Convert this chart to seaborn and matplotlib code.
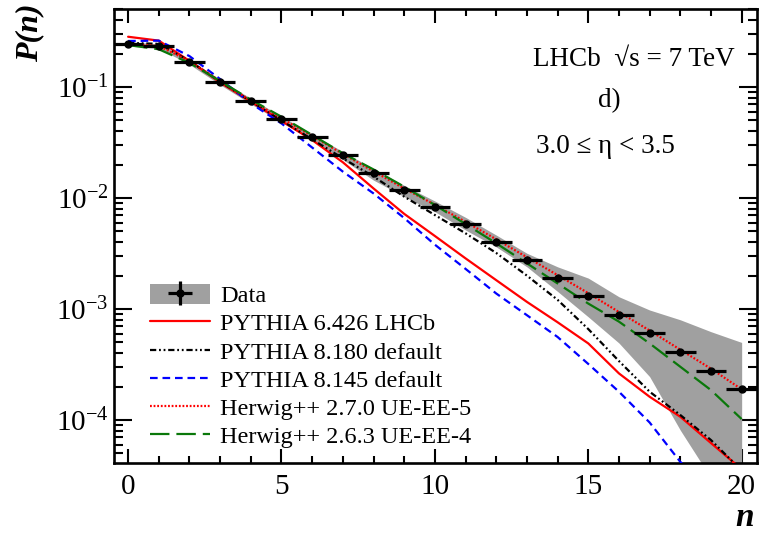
# P(n) multiplicity distribution, LHCb sqrt(s)=7 TeV, 3.0 <= eta < 3.5
import numpy as np
import pandas as pd
import matplotlib
matplotlib.use("Agg")
import matplotlib.pyplot as plt
import matplotlib.ticker as mticker
from matplotlib.patches import Patch
from matplotlib.lines import Line2D
import seaborn as sns

#%%
# values
n = np.arange(0, 21)
data = [0.245, 0.234, 0.168, 0.111, 0.0748, 0.0515, 0.0355, 0.0244, 0.0169, 0.0118,
        0.00835, 0.00583, 0.00404, 0.00276, 0.00191, 0.00131, 0.000883, 0.000604,
        0.000407, 0.000278, 0.000189]
data_err = [0.004, 0.004, 0.003, 0.002, 0.0013, 0.0009, 0.0006, 0.0004, 0.0003, 0.0002,
            0.00015, 0.0001, 0.00008, 0.00006, 0.00004, 0.00003, 0.00002, 0.000015,
            0.00001, 0.000008, 0.000006]
band_hi = [0.256, 0.245, 0.176, 0.117, 0.079, 0.0545, 0.0378, 0.0262, 0.0184, 0.0130,
           0.0094, 0.0067, 0.00464, 0.00318, 0.0024, 0.0019, 0.00129, 0.00098,
           0.0008, 0.000625, 0.0005]
band_lo = [0.234, 0.223, 0.160, 0.105, 0.0705, 0.0482, 0.0330, 0.0222, 0.0145, 0.0103,
           0.00753, 0.00515, 0.00363, 0.0024, 0.00144, 0.00085, 0.000494, 0.000246,
           0.000081, 0.000030, 0.000020]

py6426 = [0.284, 0.262, 0.172, 0.110, 0.0738, 0.0495, 0.0333, 0.0210, 0.0122, 0.0072,
          0.00455, 0.00286, 0.00182, 0.00116, 0.00076, 0.00049, 0.000263, 0.000162,
          0.000107, 0.000062, 0.000036]
py8180 = [0.250, 0.245, 0.172, 0.112, 0.0745, 0.050, 0.0338, 0.0228, 0.0156, 0.0103,
          0.00703, 0.00481, 0.00320, 0.00200, 0.00121, 0.00066, 0.00034, 0.000180,
          0.000111, 0.000066, 0.000035]
py8145 = [0.260, 0.262, 0.190, 0.118, 0.0713, 0.0470, 0.0285, 0.0173, 0.0110, 0.0066,
          0.0038, 0.0023, 0.00138, 0.00088, 0.00056, 0.00032, 0.00018, 0.000095,
          0.000042, 0.000022, 0.000012]
hw270 = [0.244, 0.234, 0.172, 0.113, 0.0755, 0.0522, 0.0362, 0.0250, 0.0174, 0.0122,
         0.0087, 0.0061, 0.00425, 0.00293, 0.00202, 0.00139, 0.00094, 0.00064,
         0.00043, 0.00029, 0.000189]
hw263 = [0.239, 0.219, 0.165, 0.113, 0.077, 0.054, 0.037, 0.0253, 0.0181, 0.01265,
         0.00865, 0.00583, 0.00391, 0.00258, 0.0017, 0.00112, 0.00077, 0.00049,
         0.000302, 0.000186, 0.000102]

labels = ["PYTHIA 6.426 LHCb", "PYTHIA 8.180 default", "PYTHIA 8.145 default",
          "Herwig++ 2.7.0 UE-EE-5", "Herwig++ 2.6.3 UE-EE-4"]

#%%
# style
sns.set_style("ticks")
serif = ["Liberation Serif", "DejaVu Serif"]
plt.rcParams["font.family"] = serif
plt.rcParams["mathtext.fontset"] = "custom"
plt.rcParams["mathtext.rm"] = "Liberation Serif"
plt.rcParams["mathtext.it"] = "Liberation Serif:italic"
plt.rcParams["mathtext.bf"] = "Liberation Serif:bold"
plt.rcParams["lines.scale_dashes"] = False
for key in ["axes.edgecolor", "xtick.color", "ytick.color", "text.color",
            "axes.labelcolor"]:
    plt.rcParams[key] = "black"

fig = plt.figure(figsize=(7.61, 5.40), dpi=100)
ax = fig.add_axes([114/761, 1-463/540, (757-114)/761, (463-9)/540])

# grey systematic band + data
ax.fill_between(n, band_lo, band_hi, color="#a0a0a0", lw=0, zorder=1)
eb = ax.errorbar(n, data, xerr=0.5, yerr=data_err, fmt="o", color="black",
                 ms=5, elinewidth=2.3, capsize=0, zorder=5)

models = pd.DataFrame({"n": n, labels[0]: py6426, labels[1]: py8180,
                       labels[2]: py8145, labels[3]: hw270, labels[4]: hw263})
styles = {
    labels[0]: ("#ff0000", "-"),
    labels[1]: ("black", (0, (4.5, 2, 1.3, 2, 1.3, 2))),
    labels[2]: ("#0000ff", (0, (5.5, 3.5))),
    labels[3]: ("#ff0000", (0, (1.3, 1.3))),
    labels[4]: ("#0a780a", (0, (14, 5))),
}
handles = []
for lab in labels:
    col, ls = styles[lab]
    sns.lineplot(data=models, x="n", y=lab, ax=ax, color=col, linestyle=ls,
                 lw=1.6, zorder=4)
    handles.append(Line2D([], [], color=col, linestyle=ls, lw=1.6))

ax.set_yscale("log")
ax.set_xlim(-0.46, 20.5)
ax.set_ylim(4.1e-5, 0.505)
ax.set_xlabel("")
ax.set_ylabel("")

ax.xaxis.set_major_locator(mticker.MultipleLocator(5))
ax.xaxis.set_minor_locator(mticker.MultipleLocator(1))
ax.yaxis.set_major_locator(mticker.LogLocator(base=10))
ax.yaxis.set_minor_locator(mticker.LogLocator(base=10, subs=np.arange(2, 10)))
ax.yaxis.set_minor_formatter(mticker.NullFormatter())
ax.yaxis.set_major_formatter(mticker.FuncFormatter(
    lambda v, p: r"10$^{%d}$" % round(np.log10(v))))

for s in ax.spines.values():
    s.set_linewidth(1.9)
ax.tick_params(which="both", direction="in", top=True, right=True, width=1.5,
               labelsize=21)
ax.tick_params(axis="y", which="major", length=13, pad=4)
ax.tick_params(axis="y", which="minor", length=6.5)
ax.tick_params(axis="x", which="major", length=10, pad=8)
ax.tick_params(axis="x", which="minor", length=5)

# legend
band_patch = Patch(facecolor="#a0a0a0", edgecolor="none")
leg = ax.legend([(band_patch, eb)] + handles, ["Data"] + labels,
                loc="upper left", bbox_to_anchor=(0.056, 0.394), frameon=False,
                fontsize=17.5, handlelength=2.45, handleheight=0.85,
                handletextpad=0.45, labelspacing=0.21, borderpad=0,
                borderaxespad=0)

# annotations
fig.text(634/761, 1-60/540, "LHCb  \u221as = 7 TeV", ha="center", va="center",
         fontsize=19.5)
fig.text(609/761, 1-101/540, "d)", ha="center", va="center", fontsize=19.5)
fig.text(605/761, 1-147/540, "3.0 \u2264 \u03b7 < 3.5", ha="center", va="center",
         fontsize=19.5)

fig.text(30/761, 1-33/540, "P(n)", rotation=90, ha="center", va="center",
         fontsize=23, fontweight="bold", fontstyle="italic")
fig.text(745/761, 1-517/540, "n", ha="center", va="center",
         fontsize=24, fontweight="bold", fontstyle="italic")

fig.savefig("out.png", dpi=100)
